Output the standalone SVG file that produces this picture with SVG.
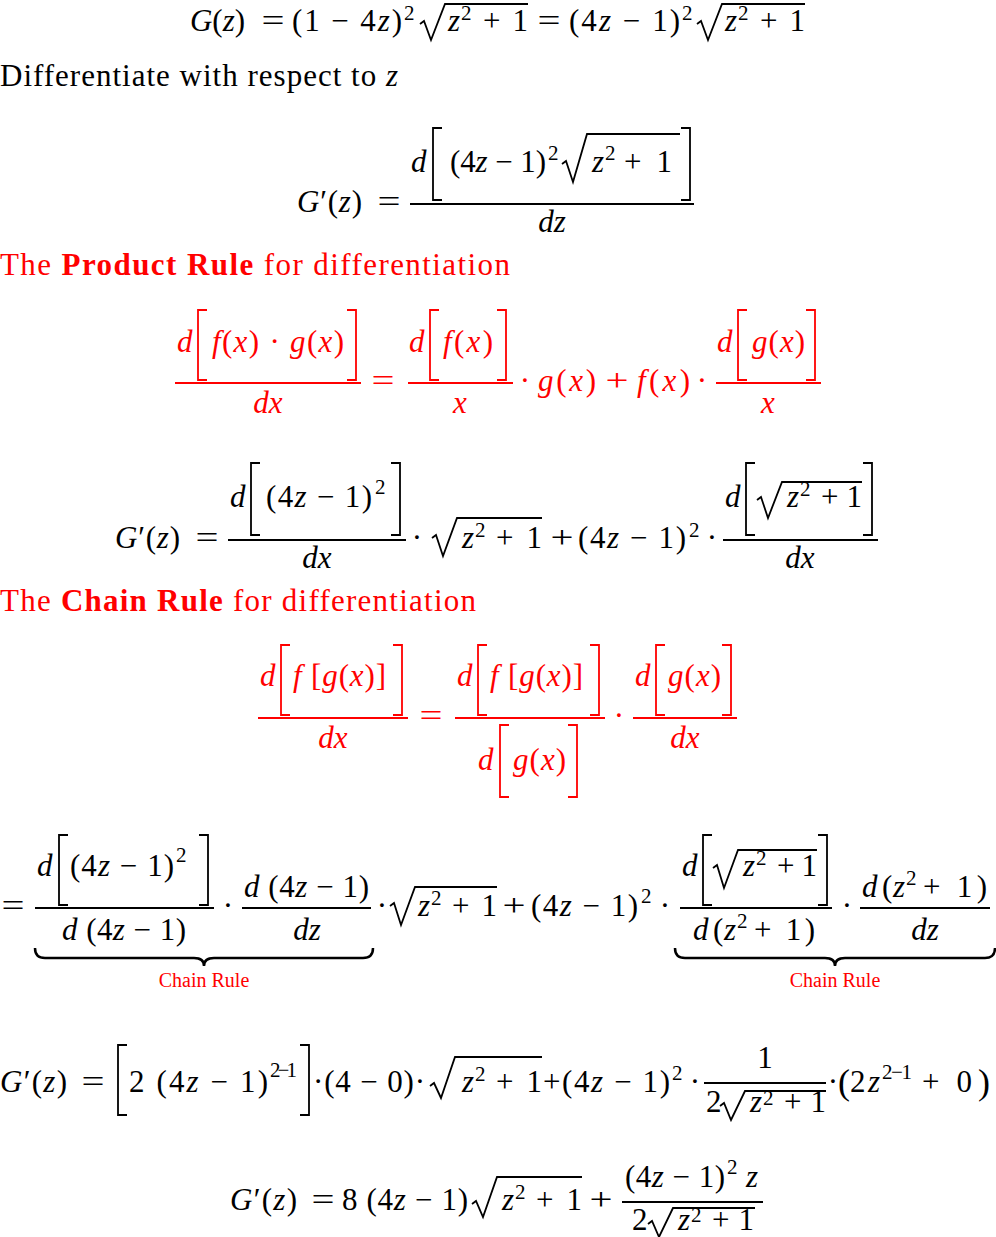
<svg xmlns="http://www.w3.org/2000/svg" width="996" height="1237" viewBox="0 0 996 1237" font-family="Liberation Serif, DejaVu Serif, serif">
<style>
text{font-family:"Liberation Serif","DejaVu Serif",serif;font-size:31px;fill:#000}
.i{font-style:italic}
.s{font-size:21px}
.c{font-size:20px}
.b{font-weight:bold}
.m{text-anchor:middle}
.r{fill:#ff0000}
.k{stroke:#000;stroke-width:1.8;fill:none}
.kr{stroke:#ff0000;stroke-width:1.8;fill:none}
.br{stroke-width:2.5}
</style>
<rect width="996" height="1237" fill="#fff"/>

<g id="line1">
<text x="190" y="31" textLength="55"><tspan class="i">G</tspan>(<tspan class="i">z</tspan>)</text>
<text x="273" y="31" class="m" textLength="23" lengthAdjust="spacingAndGlyphs">=</text>
<text x="292" y="31" textLength="110">(1 − 4<tspan class="i">z</tspan>)</text>
<text x="404" y="20" class="s">2</text>
<path class="k" d="M420,24 L424,21 L431,40 L445,4 H528"/>
<text x="448" y="31" class="i">z</text><text x="461" y="20" class="s">2</text>
<text x="483" y="31" textLength="45">+ 1</text>
<text x="549" y="31" class="m" textLength="23" lengthAdjust="spacingAndGlyphs">=</text>
<text x="569" y="31" textLength="111">(4<tspan class="i">z</tspan> − 1)</text>
<text x="682" y="20" class="s">2</text>
<path class="k" d="M697,24 L701,21 L708,40 L722,4 H805"/>
<text x="725" y="31" class="i">z</text><text x="738" y="20" class="s">2</text>
<text x="760" y="31" textLength="45">+ 1</text>
</g>

<g id="line2">
<text x="0" y="86" textLength="398">Differentiate with respect to <tspan class="i">z</tspan></text>
</g>

<g id="line3">
<text x="297" y="212" textLength="65"><tspan class="i">G</tspan>′(<tspan class="i">z</tspan>)</text>
<text x="389" y="212" class="m" textLength="23" lengthAdjust="spacingAndGlyphs">=</text>
<line class="k" x1="410" y1="204" x2="694" y2="204"/>
<text x="411" y="172" class="i">d</text>
<path class="k" d="M442,128 H433 V200 H442"/>
<text x="450" y="172" textLength="96">(4<tspan class="i">z</tspan> − 1)</text>
<text x="548" y="160" class="s">2</text>
<path class="k" d="M562,164 L566,161 L573,182 L587,134 H680"/>
<text x="592" y="172" class="i">z</text><text x="605" y="160" class="s">2</text>
<text x="624" y="172" textLength="48">+ 1</text>
<path class="k" d="M681,128 H690 V200 H681"/>
<text x="552" y="232" class="m i">dz</text>
</g>

<g id="product-heading">
<text x="0" y="275" class="r" textLength="510">The <tspan class="b">Product Rule</tspan> for differentiation</text>
</g>

<g id="product-rule">
<line class="kr" x1="175" y1="383" x2="361" y2="383"/>
<text x="177" y="352" class="i r">d</text>
<path class="kr" d="M207,310 H198 V380 H207"/>
<text x="212" y="352" class="r" textLength="132"><tspan class="i">f</tspan>(<tspan class="i">x</tspan>) · <tspan class="i">g</tspan>(<tspan class="i">x</tspan>)</text>
<path class="kr" d="M347,310 H356 V380 H347"/>
<text x="268" y="413" class="m i r">dx</text>
<text x="383" y="391" class="m r" textLength="23" lengthAdjust="spacingAndGlyphs">=</text>
<line class="kr" x1="408" y1="383" x2="513" y2="383"/>
<text x="409" y="352" class="i r">d</text>
<path class="kr" d="M439,310 H430 V380 H439"/>
<text x="443" y="352" class="r" textLength="50"><tspan class="i">f</tspan>(<tspan class="i">x</tspan>)</text>
<path class="kr" d="M497,310 H506 V380 H497"/>
<text x="460" y="413" class="m i r">x</text>
<text x="525" y="391" class="m r">·</text>
<text x="538" y="391" class="r" textLength="58"><tspan class="i">g</tspan>(<tspan class="i">x</tspan>)</text>
<text x="617" y="391" class="m r" textLength="23" lengthAdjust="spacingAndGlyphs">+</text>
<text x="637" y="391" class="r" textLength="53"><tspan class="i">f</tspan>(<tspan class="i">x</tspan>)</text>
<text x="702" y="391" class="m r">·</text>
<line class="kr" x1="716" y1="383" x2="821" y2="383"/>
<text x="717" y="352" class="i r">d</text>
<path class="kr" d="M747,310 H738 V380 H747"/>
<text x="752" y="352" class="r" textLength="53"><tspan class="i">g</tspan>(<tspan class="i">x</tspan>)</text>
<path class="kr" d="M806,310 H815 V380 H806"/>
<text x="768" y="413" class="m i r">x</text>
</g>

<g id="line-product-applied">
<text x="115" y="548" textLength="65"><tspan class="i">G</tspan>′(<tspan class="i">z</tspan>)</text>
<text x="207" y="548" class="m" textLength="23" lengthAdjust="spacingAndGlyphs">=</text>
<line class="k" x1="228" y1="540" x2="406" y2="540"/>
<text x="230" y="507" class="i">d</text>
<path class="k" d="M260,463 H251 V535 H260"/>
<text x="266" y="507" textLength="106">(4<tspan class="i">z</tspan> − 1)</text>
<text x="375" y="494" class="s">2</text>
<path class="k" d="M391,463 H400 V535 H391"/>
<text x="317" y="568" class="m i">dx</text>
<text x="417" y="548" class="m">·</text>
<path class="k" d="M432,538 L436,535 L443,556 L457,518 H542"/>
<text x="462" y="548" class="i">z</text><text x="475" y="537" class="s">2</text>
<text x="496" y="548" textLength="46">+ 1</text>
<text x="562" y="548" class="m" textLength="23" lengthAdjust="spacingAndGlyphs">+</text>
<text x="578" y="548" textLength="108">(4<tspan class="i">z</tspan> − 1)</text>
<text x="689" y="537" class="s">2</text>
<text x="712" y="548" class="m">·</text>
<line class="k" x1="723" y1="540" x2="878" y2="540"/>
<text x="725" y="507" class="i">d</text>
<path class="k" d="M755,463 H746 V535 H755"/>
<path class="k" d="M757,500 L761,497 L768,518 L782,482 H862"/>
<text x="787" y="507" class="i">z</text><text x="800" y="496" class="s">2</text>
<text x="821" y="507" textLength="41">+ 1</text>
<path class="k" d="M863,463 H872 V535 H863"/>
<text x="800" y="568" class="m i">dx</text>
</g>

<g id="chain-heading">
<text x="0" y="611" class="r" textLength="476">The <tspan class="b">Chain Rule</tspan> for differentiation</text>
</g>

<g id="chain-rule">
<line class="kr" x1="258" y1="718" x2="408" y2="718"/>
<text x="260" y="686" class="i r">d</text>
<path class="kr" d="M290,645 H281 V715 H290"/>
<text x="293" y="686" class="r" textLength="93"><tspan class="i">f</tspan> [<tspan class="i">g</tspan>(<tspan class="i">x</tspan>)]</text>
<path class="kr" d="M393,645 H402 V715 H393"/>
<text x="333" y="748" class="m i r">dx</text>
<text x="431" y="726" class="m r" textLength="23" lengthAdjust="spacingAndGlyphs">=</text>
<line class="kr" x1="455" y1="718" x2="605" y2="718"/>
<text x="457" y="686" class="i r">d</text>
<path class="kr" d="M487,645 H478 V715 H487"/>
<text x="490" y="686" class="r" textLength="93"><tspan class="i">f</tspan> [<tspan class="i">g</tspan>(<tspan class="i">x</tspan>)]</text>
<path class="kr" d="M590,645 H599 V715 H590"/>
<text x="478" y="770" class="i r">d</text>
<path class="kr" d="M509,725 H500 V797 H509"/>
<text x="513" y="770" class="r" textLength="53"><tspan class="i">g</tspan>(<tspan class="i">x</tspan>)</text>
<path class="kr" d="M568,725 H577 V797 H568"/>
<text x="619" y="726" class="m r">·</text>
<line class="kr" x1="633" y1="718" x2="737" y2="718"/>
<text x="635" y="686" class="i r">d</text>
<path class="kr" d="M665,645 H656 V715 H665"/>
<text x="668" y="686" class="r" textLength="53"><tspan class="i">g</tspan>(<tspan class="i">x</tspan>)</text>
<path class="kr" d="M722,645 H731 V715 H722"/>
<text x="685" y="748" class="m i r">dx</text>
</g>

<g id="line-chain-applied">
<text x="13" y="916" class="m" textLength="23" lengthAdjust="spacingAndGlyphs">=</text>
<line class="k" x1="35" y1="908" x2="214" y2="908"/>
<text x="37" y="876" class="i">d</text>
<path class="k" d="M68,835 H59 V905 H68"/>
<text x="70" y="876" textLength="104">(4<tspan class="i">z</tspan> − 1)</text>
<text x="176" y="862" class="s">2</text>
<path class="k" d="M199,835 H208 V905 H199"/>
<text x="62" y="940" textLength="124"><tspan class="i">d</tspan> (4<tspan class="i">z</tspan> − 1)</text>
<text x="228" y="916" class="m">·</text>
<line class="k" x1="242" y1="908" x2="371" y2="908"/>
<text x="244" y="897" textLength="125"><tspan class="i">d</tspan> (4<tspan class="i">z</tspan> − 1)</text>
<text x="307" y="940" class="m i">dz</text>
<text x="382" y="916" class="m">·</text>
<path class="k" d="M390,906 L394,903 L401,925 L415,887 H497"/>
<text x="418" y="916" class="i">z</text><text x="431" y="905" class="s">2</text>
<text x="452" y="916" textLength="45">+ 1</text>
<text x="514" y="916" class="m" textLength="23" lengthAdjust="spacingAndGlyphs">+</text>
<text x="531" y="916" textLength="107">(4<tspan class="i">z</tspan> − 1)</text>
<text x="641" y="903" class="s">2</text>
<text x="665" y="916" class="m">·</text>
<line class="k" x1="680" y1="908" x2="832" y2="908"/>
<text x="682" y="876" class="i">d</text>
<path class="k" d="M712,835 H703 V905 H712"/>
<path class="k" d="M713,868 L717,865 L724,888 L738,850 H817"/>
<text x="743" y="876" class="i">z</text><text x="756" y="865" class="s">2</text>
<text x="777" y="876" textLength="40">+ 1</text>
<path class="k" d="M818,835 H827 V905 H818"/>
<text x="693" y="940" class="i">d</text>
<text x="713" y="940">(</text>
<text x="724" y="940" class="i">z</text><text x="737" y="928" class="s">2</text>
<text x="754" y="940" textLength="61">+ 1)</text>
<text x="847" y="916" class="m">·</text>
<line class="k" x1="860" y1="908" x2="990" y2="908"/>
<text x="862" y="897" class="i">d</text>
<text x="882" y="897">(</text>
<text x="893" y="897" class="i">z</text><text x="906" y="885" class="s">2</text>
<text x="923" y="897" textLength="64">+ 1)</text>
<text x="925" y="940" class="m i">dz</text>
<path class="k br" d="M35,948 Q35,958 45,958 H194 Q204,958 204,966 Q204,958 214,958 H363 Q373,958 373,948"/>
<text x="204" y="987" class="m c r">Chain Rule</text>
<path class="k br" d="M675,948 Q675,958 685,958 H825 Q835,958 835,966 Q835,958 845,958 H985 Q995,958 995,948"/>
<text x="835" y="987" class="m c r">Chain Rule</text>
</g>

<g id="line-derivatives">
<text x="0" y="1092" textLength="67"><tspan class="i">G</tspan>′(<tspan class="i">z</tspan>)</text>
<text x="93" y="1092" class="m" textLength="23" lengthAdjust="spacingAndGlyphs">=</text>
<path class="k" d="M127,1045 H118 V1115 H127"/>
<text x="129" y="1092" textLength="139">2 (4<tspan class="i">z</tspan> − 1)</text>
<text x="270" y="1077" class="s" textLength="27">2−1</text>
<path class="k" d="M300,1045 H309 V1115 H300"/>
<text x="313" y="1092" textLength="112">·(4 − 0)·</text>
<path class="k" d="M430,1086 L434,1083 L441,1098 L455,1057 H542"/>
<text x="462" y="1092" class="i">z</text><text x="475" y="1081" class="s">2</text>
<text x="496" y="1092" textLength="46">+ 1</text>
<text x="543" y="1092" textLength="127">+(4<tspan class="i">z</tspan> − 1)</text>
<text x="672" y="1080" class="s">2</text>
<text x="695" y="1092" class="m">·</text>
<line class="k" x1="704" y1="1083" x2="826" y2="1083"/>
<text x="765" y="1068" class="m">1</text>
<text x="706" y="1112">2</text>
<path class="k" d="M720,1106 L724,1103 L731,1120 L745,1091 H826"/>
<text x="750" y="1112" class="i">z</text><text x="763" y="1105" class="s">2</text>
<text x="784" y="1112" textLength="42">+ 1</text>
<text x="833" y="1092" class="m">·</text>
<text x="838" y="1094" style="font-size:36px">(</text>
<text x="850" y="1092" textLength="30">2<tspan class="i">z</tspan></text>
<text x="882" y="1079" class="s" textLength="30">2−1</text>
<text x="922" y="1092" textLength="50">+ 0</text>
<text x="978" y="1094" style="font-size:36px">)</text>
</g>

<g id="line-final">
<text x="230" y="1210" textLength="67"><tspan class="i">G</tspan>′(<tspan class="i">z</tspan>)</text>
<text x="323" y="1210" class="m" textLength="23" lengthAdjust="spacingAndGlyphs">=</text>
<text x="342" y="1210" textLength="126">8 (4<tspan class="i">z</tspan> − 1)</text>
<path class="k" d="M472,1204 L476,1201 L483,1217 L497,1177 H582"/>
<text x="502" y="1210" class="i">z</text><text x="515" y="1199" class="s">2</text>
<text x="536" y="1210" textLength="46">+ 1</text>
<text x="601" y="1210" class="m" textLength="23" lengthAdjust="spacingAndGlyphs">+</text>
<line class="k" x1="622" y1="1202" x2="763" y2="1202"/>
<text x="625" y="1187" textLength="100">(4<tspan class="i">z</tspan> − 1)</text>
<text x="727" y="1174" class="s">2</text>
<text x="746" y="1187" class="i">z</text>
<text x="632" y="1230">2</text>
<path class="k" d="M648,1224 L652,1221 L659,1237 L673,1208 H755"/>
<text x="678" y="1230" class="i">z</text><text x="691" y="1222" class="s">2</text>
<text x="712" y="1230" textLength="42">+ 1</text>
</g>
</svg>
